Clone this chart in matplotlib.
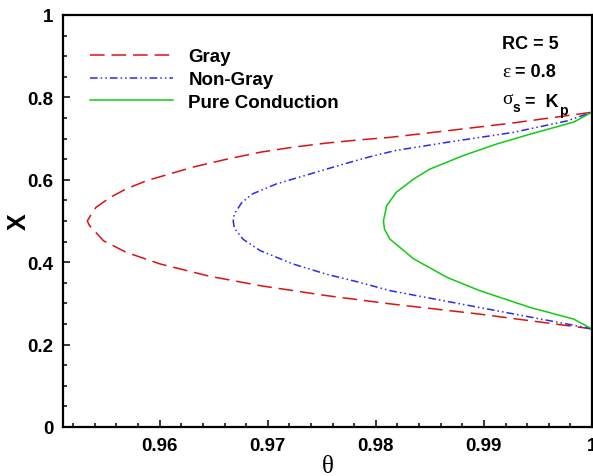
import matplotlib
matplotlib.use("Agg")
import matplotlib.pyplot as plt
from matplotlib.ticker import MultipleLocator

# ---- data ----
gray_x = [0.238, 0.242, 0.274, 0.299, 0.319, 0.343, 0.366, 0.396, 0.424, 0.452, 0.489, 0.500,
          0.509, 0.533, 0.557, 0.578, 0.598, 0.614, 0.631, 0.650, 0.667, 0.679, 0.689, 0.697,
          0.703, 0.719, 0.738, 0.760, 0.764]
gray_theta = [1.0, 0.9989, 0.9896, 0.9813, 0.9754, 0.9693, 0.9646, 0.9600, 0.9569, 0.9548, 0.9535, 0.9533,
              0.9535, 0.9541, 0.9554, 0.9569, 0.9588, 0.9609, 0.9631, 0.9662, 0.9693, 0.9723, 0.9754, 0.9785,
              0.9813, 0.9866, 0.9927, 0.9989, 1.0]

nongray_x = [0.238, 0.244, 0.290, 0.331, 0.351, 0.371, 0.396, 0.428, 0.456, 0.483, 0.500, 0.517,
             0.545, 0.566, 0.590, 0.614, 0.638, 0.655, 0.671, 0.691, 0.715, 0.743, 0.764]
nongray_theta = [1.0, 0.9989, 0.9896, 0.9813, 0.9785, 0.9754, 0.9723, 0.9693, 0.9677, 0.9669, 0.9668, 0.9669,
                 0.9676, 0.9686, 0.9708, 0.9739, 0.9770, 0.9793, 0.9818, 0.9866, 0.9927, 0.9977, 1.0]

cond_x = [0.238, 0.262, 0.290, 0.331, 0.363, 0.408, 0.456, 0.480, 0.500, 0.537, 0.570, 0.602,
          0.626, 0.659, 0.687, 0.711, 0.740, 0.764]
cond_theta = [1.0, 0.9983, 0.9943, 0.9896, 0.9866, 0.9835, 0.9813, 0.9808, 0.9807, 0.9810, 0.9819, 0.9835,
              0.9850, 0.9881, 0.9912, 0.9943, 0.9983, 1.0]

labels = ["Gray", "Non-Gray", "Pure Conduction"]
xticks = [0.96, 0.97, 0.98, 0.99, 1.0]
xtick_labels = ["0.96", "0.97", "0.98", "0.99", "1"]
yticks = [0, 0.2, 0.4, 0.6, 0.8, 1.0]
ytick_labels = ["0", "0.2", "0.4", "0.6", "0.8", "1"]

plt.rcParams["lines.scale_dashes"] = False
SANS = "Liberation Sans"
SERIF = "Liberation Serif"

fig = plt.figure(figsize=(5.93, 4.77), dpi=100)
ax = fig.add_axes([63 / 593, 1 - 428 / 477, (592 - 63) / 593, (428 - 16) / 477])

lw = 1.1
ax.plot(gray_theta, gray_x, color="#dd1111", lw=lw, dashes=(10.5, 5), label=labels[0])
ax.plot(nongray_theta, nongray_x, color="#2a2aee", lw=lw,
        dashes=(5.5, 2.2, 1.1, 2.2, 1.1, 2.2), label=labels[1])
ax.plot(cond_theta, cond_x, color="#11cc11", lw=lw, label=labels[2])

ax.set_xlim(0.95105, 1.0)
ax.set_ylim(0, 1)
ax.set_xticks(xticks)
ax.set_xticklabels(xtick_labels)
ax.set_yticks(yticks)
ax.set_yticklabels(ytick_labels)
ax.xaxis.set_minor_locator(MultipleLocator(0.002))
ax.yaxis.set_minor_locator(MultipleLocator(0.05))
ax.tick_params(which="both", direction="in", top=False, right=False, width=1.1)
ax.tick_params(which="major", length=5, pad=7)
ax.tick_params(which="minor", length=3)
for lab in ax.get_xticklabels() + ax.get_yticklabels():
    lab.set_fontfamily(SANS)
    lab.set_fontweight("bold")
    lab.set_fontsize(13.5)
for sp in ax.spines.values():
    sp.set_linewidth(1.6)

ax.set_xlabel("θ", fontfamily=SERIF, fontsize=18, labelpad=1)
ax.set_ylabel("X", fontfamily=SANS, fontweight="bold", fontsize=18, va="center", ha="center")
ax.yaxis.set_label_coords((19 - 63) / 529, 0.5)

lfs = 13.5
leg = ax.legend(loc="upper left", bbox_to_anchor=((90 - 63) / 529, (428 - 49) / 412),
                frameon=False, borderaxespad=0, borderpad=0,
                prop={"family": SANS, "weight": "bold", "size": lfs},
                handlelength=4.45, handletextpad=0.8, labelspacing=0.31)

# annotations at upper right
fs = 13
t1 = ax.text(502, 477 - 45, "RC = 5", transform=None, fontfamily=SANS, fontweight="bold",
             fontsize=fs, va="center", ha="left")
t2 = ax.text(502, 477 - 73, "ε", transform=None, fontfamily=SERIF, fontsize=fs + 1,
             va="center", ha="left")
ax.annotate(" = 0.8", xy=(1, 0.5), xycoords=t2, va="center", ha="left",
            fontfamily=SANS, fontweight="bold", fontsize=fs)
t3 = ax.text(502, 477 - 100, "σ", transform=None, fontfamily=SERIF, fontsize=fs + 1,
             va="center", ha="left")
t4 = ax.annotate("s", xy=(1, 0), xycoords=t3, va="center", ha="left",
                 fontfamily=SANS, fontweight="bold", fontsize=fs - 3)
t5 = ax.annotate(" =  K", xy=(1, 1.0), xycoords=t4, xytext=(0, -1), textcoords="offset points",
                 va="center", ha="left", fontfamily=SANS, fontweight="bold", fontsize=fs)
ax.annotate("p", xy=(1, 0), xycoords=t5, va="center", ha="left",
            fontfamily=SANS, fontweight="bold", fontsize=fs - 3)

fig.savefig("out.png", dpi=100)
